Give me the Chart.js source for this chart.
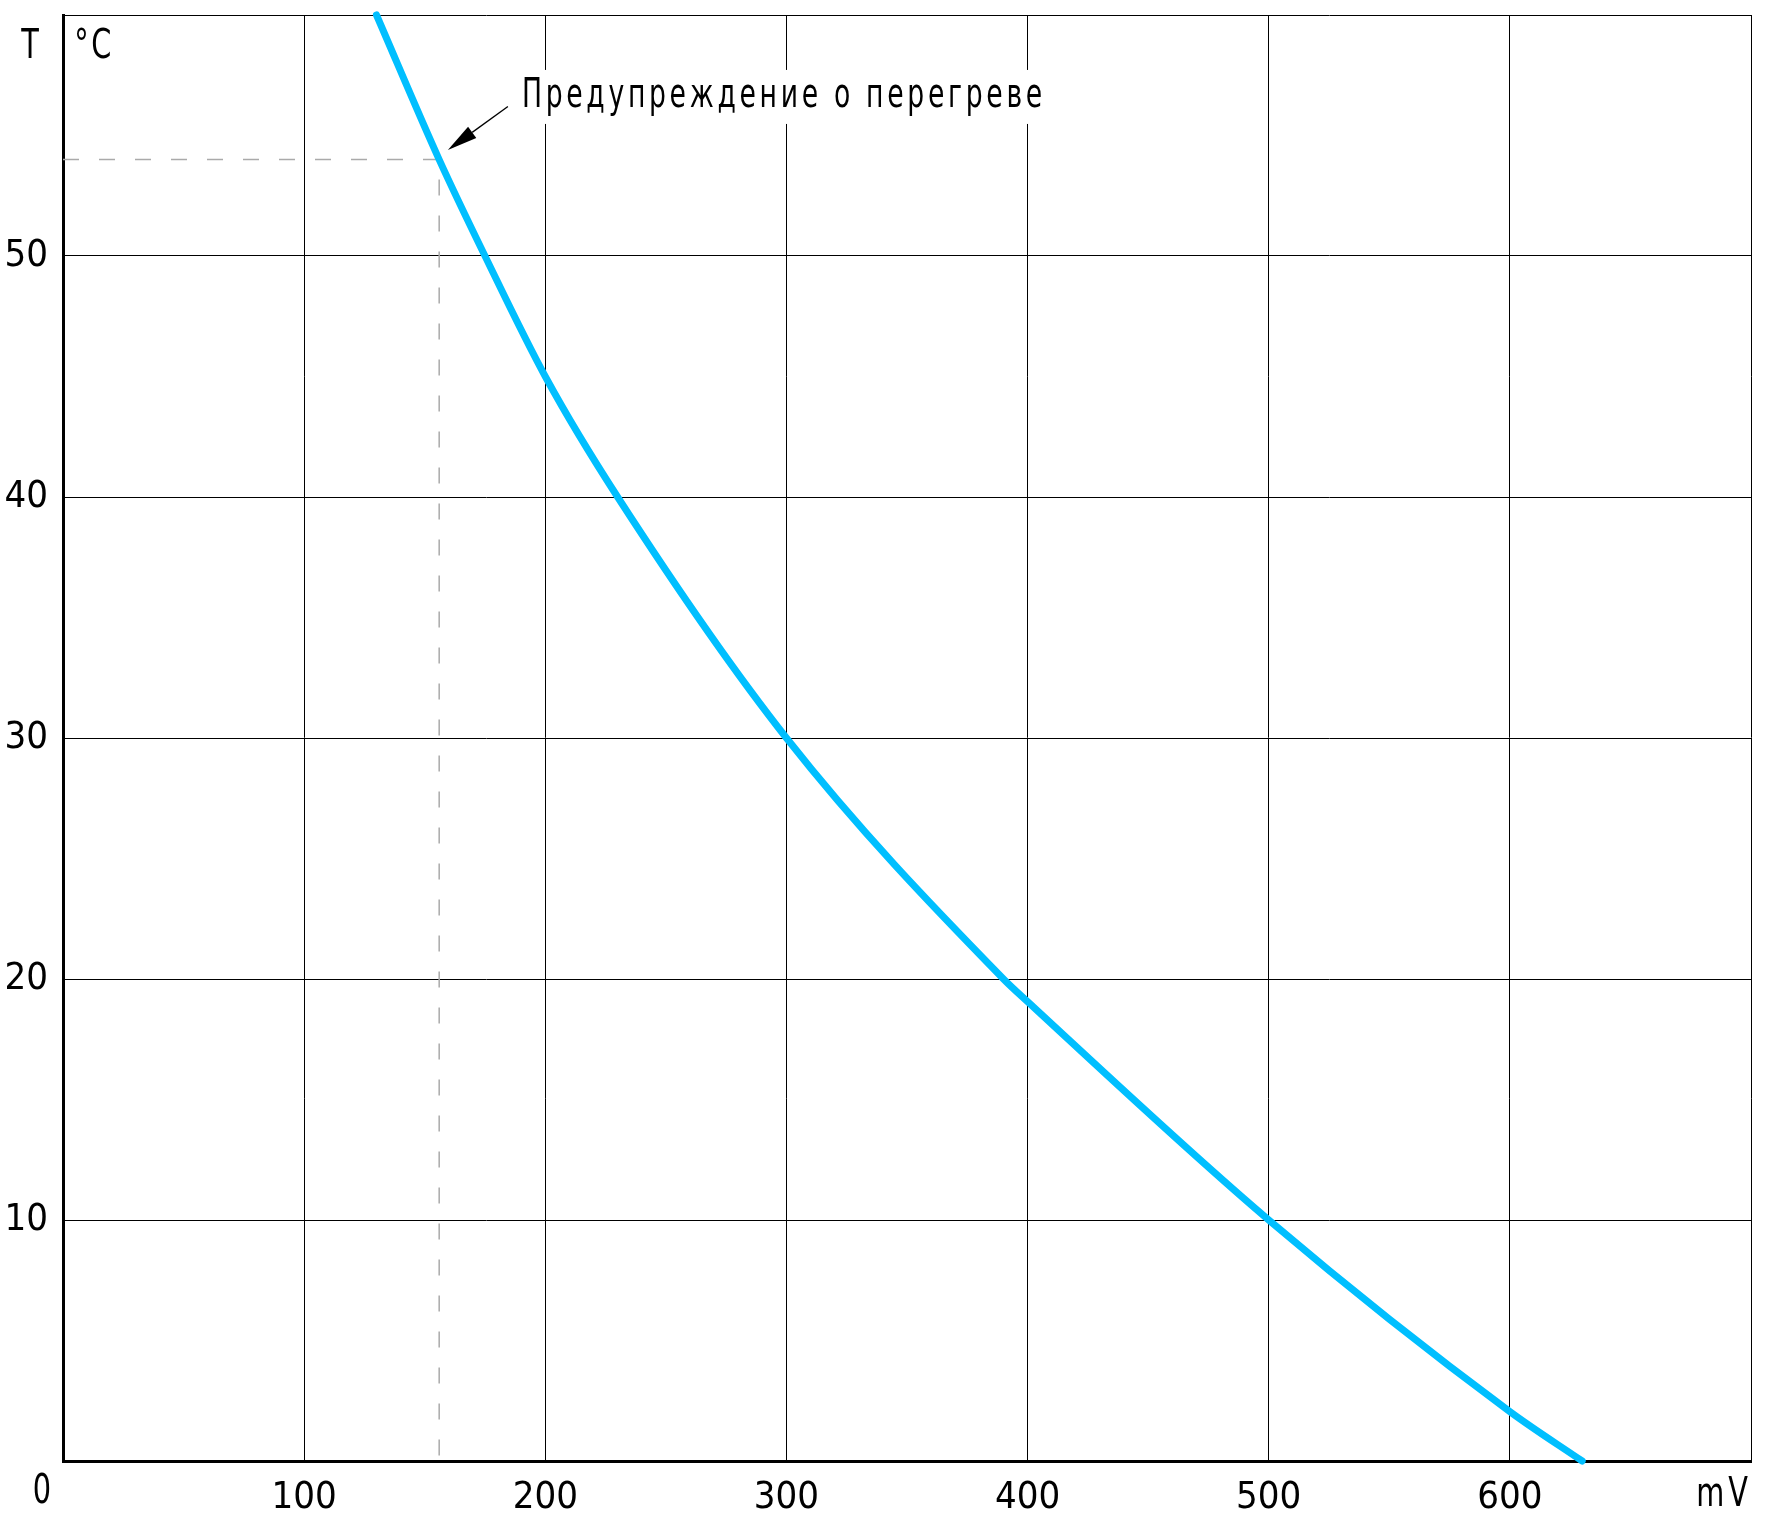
<!DOCTYPE html>
<html lang="ru">
<head>
<meta charset="utf-8">
<title>Температура — напряжение</title>
<script src="https://cdn.jsdelivr.net/npm/chart.js@4.4.1/dist/chart.umd.min.js"></script>
<style>
  html, body { margin: 0; padding: 0; background: #fff; }
  #wrap { width: 1772px; height: 1521px; }
</style>
</head>
<body>
<div id="wrap"><canvas id="grafik" width="1772" height="1521"></canvas></div>
<script>
// кривая: напряжение (mV) -> температура (°C)
const napryazhenie = [130, 156, 175, 200, 230, 300, 390, 400, 500, 600, 630];
const temperatura = [60, 54, 50, 45, 40, 30, 20, 19.06, 10, 2.05, 0];

// порог перегрева (пунктир)
const porogX = [0, 156, 156];
const porogY = [54, 54, 0];

// выноска
const strelkaOt = [184.5, 56.2];
const strelkaK = [159.6, 54.4];
const tekstPoz = [190.3, 56.6];
const tekstPodpisi = "Предупреждение о перегреве";

const xMin = 0, xMax = 700, xShag = 100;
const yMin = 0, yMax = 60, yShag = 10;

const SHRIFT = '"DejaVu Sans Condensed", "DejaVu Sans", sans-serif';

function tochki(xs, ys) {
  return xs.map((x, i) => ({ x, y: ys[i] }));
}

// узкий текст, как чертёжный шрифт
function uzkiyTekst(ctx, str, x, y, align, szhatie, razryadka, fon) {
  ctx.save();
  ctx.letterSpacing = razryadka + "px";
  const w = ctx.measureText(str).width * szhatie;
  let x0 = x;
  if (align === "center") x0 = x - w / 2;
  if (align === "right") x0 = x - w;
  if (fon) {
    ctx.fillStyle = "#fff";
    ctx.fillRect(x0 - 8, y - 27, w + 16, 54);
    ctx.fillStyle = "#000";
  }
  ctx.translate(x0, y);
  ctx.scale(szhatie, 1);
  ctx.textAlign = "left";
  ctx.fillText(str, 0, 0);
  ctx.restore();
}

// без отступов под крайние подписи
function bezOtstupov(s) {
  s.paddingTop = 0;
  s.paddingBottom = 0;
  s.paddingLeft = 0;
  s.paddingRight = 0;
}

const podpisi = {
  id: "podpisi",
  afterDraw(chart) {
    const { ctx, scales: { x, y } } = chart;
    ctx.save();
    ctx.fillStyle = "#000";
    ctx.strokeStyle = "#000";

    // стрелка
    const x0 = x.getPixelForValue(strelkaOt[0]), y0 = y.getPixelForValue(strelkaOt[1]);
    const x1 = x.getPixelForValue(strelkaK[0]), y1 = y.getPixelForValue(strelkaK[1]);
    const ug = Math.atan2(y1 - y0, x1 - x0);
    const dl = 30, sh = 7;
    const bx = x1 - dl * Math.cos(ug), by = y1 - dl * Math.sin(ug);
    ctx.lineWidth = 1.3;
    ctx.beginPath();
    ctx.moveTo(x0, y0);
    ctx.lineTo(bx, by);
    ctx.stroke();
    ctx.beginPath();
    ctx.moveTo(x1, y1);
    ctx.lineTo(bx + sh * Math.sin(ug), by - sh * Math.cos(ug));
    ctx.lineTo(bx - sh * Math.sin(ug), by + sh * Math.cos(ug));
    ctx.closePath();
    ctx.fill();

    ctx.font = "40px " + SHRIFT;
    ctx.textBaseline = "middle";
    uzkiyTekst(ctx, tekstPodpisi, x.getPixelForValue(tekstPoz[0]), y.getPixelForValue(tekstPoz[1]), "left", 0.74, 5, true);

    // подписи осей
    uzkiyTekst(ctx, "T", 30, 48, "center", 0.8, 0);
    uzkiyTekst(ctx, "°C", 94, 48, "center", 0.8, 3);
    uzkiyTekst(ctx, "0", 42, 1493, "center", 0.8, 0);
    uzkiyTekst(ctx, "mV", 1724, 1496, "center", 0.8, 5);
    ctx.restore();
  }
};

new Chart(document.getElementById("grafik"), {
  type: "line",
  data: {
    datasets: [
      {
        data: tochki(napryazhenie, temperatura),
        borderColor: "#00bfff",
        borderWidth: 7,
        borderCapStyle: "round",
        pointRadius: 0,
        cubicInterpolationMode: "monotone",
        clip: false
      },
      {
        data: tochki(porogX, porogY),
        borderColor: "#aaaaaa",
        borderWidth: 1.5,
        borderDash: [16, 20],
        pointRadius: 0,
        tension: 0
      }
    ]
  },
  options: {
    responsive: false,
    animation: false,
    layout: { padding: { top: 15, right: 21, left: 0, bottom: 0 } },
    plugins: { legend: { display: false }, tooltip: { enabled: false } },
    scales: {
      x: {
        type: "linear",
        min: xMin, max: xMax,
        afterFit: s => { s.height = 60; bezOtstupov(s); },
        grid: { color: "#000", lineWidth: 1, drawTicks: false },
        border: { color: "#000", width: 3 },
        ticks: {
          stepSize: xShag, autoSkip: false, padding: 14, color: "#000",
          font: { family: SHRIFT, size: 38 },
          callback: v => (v === xMin || v === xMax) ? "" : v
        }
      },
      y: {
        min: yMin, max: yMax,
        afterFit: s => { s.width = 63; bezOtstupov(s); },
        grid: { color: "#000", lineWidth: 1, drawTicks: false },
        border: { color: "#000", width: 3 },
        ticks: {
          stepSize: yShag, autoSkip: false, padding: 15, labelOffset: 0, color: "#000",
          font: { family: SHRIFT, size: 38 },
          callback: v => (v === yMin || v === yMax) ? "" : v
        }
      }
    }
  },
  plugins: [podpisi]
});
</script>
</body>
</html>
